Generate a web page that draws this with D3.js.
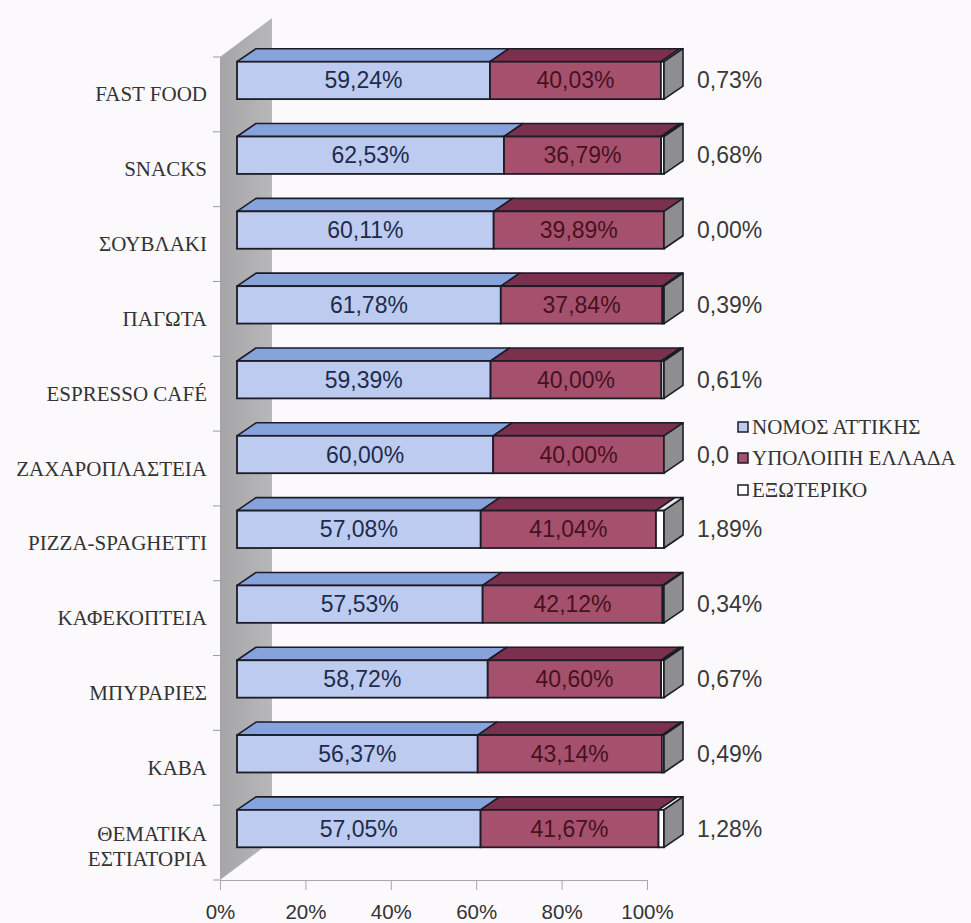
<!DOCTYPE html>
<html>
<head>
<meta charset="utf-8">
<script src="https://cdn.jsdelivr.net/npm/d3@7"></script>
<style>
  html, body { margin: 0; padding: 0; background: #fcf9fc; }
  svg { display: block; }
</style>
</head>
<body>
<svg id="chart" width="971" height="923"></svg>
<script>
// Categories, top to bottom
const categories = [
  "FAST FOOD", "SNACKS", "ΣΟΥΒΛΑΚΙ", "ΠΑΓΩΤΑ", "ESPRESSO CAFÉ",
  "ΖΑΧΑΡΟΠΛΑΣΤΕΙΑ", "PIZZA-SPAGHETTI", "ΚΑΦΕΚΟΠΤΕΙΑ", "ΜΠΥΡΑΡΙΕΣ",
  "ΚΑΒΑ", "ΘΕΜΑΤΙΚΑ ΕΣΤΙΑΤΟΡΙΑ"
];
// Share of each origin, in percent
const attica     = [59.24, 62.53, 60.11, 61.78, 59.39, 60.00, 57.08, 57.53, 58.72, 56.37, 57.05];
const restGreece = [40.03, 36.79, 39.89, 37.84, 40.00, 40.00, 41.04, 42.12, 40.60, 43.14, 41.67];
const abroad     = [0.73, 0.68, 0.00, 0.39, 0.61, 0.00, 1.89, 0.34, 0.67, 0.49, 1.28];
const seriesNames = ["ΝΟΜΟΣ ΑΤΤΙΚΗΣ", "ΥΠΟΛΟΙΠΗ ΕΛΛΑΔΑ", "ΕΞΩΤΕΡΙΚΟ"];
const xTicks = [0, 20, 40, 60, 80, 100];

const svg = d3.select("#chart");

// Front plane scales
const x = d3.scaleLinear().domain([0, 100]).range([220, 647]);
const y = d3.scaleBand().domain(categories).range([57, 880])
  .paddingInner(0.5).paddingOuter(0.25);
const step = y.step();
const bw = y.bandwidth();

// 3D offsets
const wallDx = 52, wallDy = -39;   // full depth of the wall
const barOx = 17, barOy = -14;     // bar front face offset
const barDx = 19, barDy = -13;     // bar depth

const fmt = v => v.toFixed(2).replace(".", ",") + "%";

// Side wall
const defs = svg.append("defs");
const wg = defs.append("linearGradient").attr("id", "wallGrad")
  .attr("x1", "0").attr("x2", "1").attr("y1", "0").attr("y2", "0");
wg.append("stop").attr("offset", "0").attr("stop-color", "#a5a5a7");
wg.append("stop").attr("offset", "1").attr("stop-color", "#b8b7b9");

const y0 = y.range()[0], y1 = y.range()[1];
svg.append("path")
  .attr("d", `M${x(0)},${y0} L${x(0) + wallDx},${y0 + wallDy} L${x(0) + wallDx},${y1 + wallDy} L${x(0)},${y1} Z`)
  .attr("fill", "url(#wallGrad)");

// Category tick marks on the wall edge
svg.append("g").selectAll("line")
  .data(d3.range(categories.length + 1))
  .join("line")
  .attr("x1", x(0) - 7).attr("x2", x(0))
  .attr("y1", i => y0 + i * step).attr("y2", i => y0 + i * step)
  .attr("stroke", "#9a9a9a").attr("stroke-width", 1);

// Floor axis
const axis = d3.axisBottom(x).tickValues(xTicks).tickSize(10).tickFormat(d => d + "%");
const ax = svg.append("g").attr("transform", `translate(0,${y1})`).call(axis);
ax.select(".domain").attr("stroke", "#a8a8a8");
ax.selectAll(".tick line").attr("stroke", "#a8a8a8");
ax.selectAll(".tick text")
  .attr("dy", 0).attr("y", 39)
  .attr("font-family", "Liberation Sans, Arial, sans-serif")
  .attr("font-size", 20.5).attr("fill", "#333");

// Category labels
const labG = svg.append("g")
  .attr("font-family", "Liberation Serif, Times New Roman, serif")
  .attr("font-size", 21).attr("fill", "#333").attr("text-anchor", "end");
categories.forEach(c => {
  const words = c === "ΘΕΜΑΤΙΚΑ ΕΣΤΙΑΤΟΡΙΑ" ? ["ΘΕΜΑΤΙΚΑ", "ΕΣΤΙΑΤΟΡΙΑ"] : [c];
  const cy = y(c) + bw / 2;
  const shift = words.length > 1 ? 4 : 0;
  const t = labG.append("text").attr("x", 207);
  words.forEach((w, i) => {
    t.append("tspan").attr("x", 207)
      .attr("y", cy + 7 + shift + (i - (words.length - 1) / 2) * 25)
      .text(w);
  });
});

// Stacked 3D bars
const fills = [
  { front: "#bdcbf0", top: "#87a3dc", text: "#1e2b4a" },
  { front: "#a5516d", top: "#7b304d", text: "#46121f" },
  { front: "#ffffff", top: "#e8e8e8", text: "#3a3a3a" }
];
const series = [attica, restGreece, abroad];
const stroke = "#1c1c28";

const barsG = svg.append("g");
categories.forEach((c, i) => {
  const g = barsG.append("g");
  const yt = y(c) + barOy;
  const yb = yt + bw;
  let acc = 0;
  let xEnd = 0;
  series.forEach((s, k) => {
    const v = s[i];
    const xa = x(acc) + barOx;
    const xb = x(acc + v) + barOx;
    acc += v;
    xEnd = xb;
    if (v <= 0) return;
    g.append("path")
      .attr("d", `M${xa},${yt} L${xa + barDx},${yt + barDy} L${xb + barDx},${yt + barDy} L${xb},${yt} Z`)
      .attr("fill", fills[k].top).attr("stroke", stroke).attr("stroke-width", 1.6)
      .attr("stroke-linejoin", "round");
    g.append("rect")
      .attr("x", xa).attr("y", yt).attr("width", xb - xa).attr("height", bw)
      .attr("fill", fills[k].front).attr("stroke", stroke).attr("stroke-width", 1.8);
  });
  // End cap
  g.append("path")
    .attr("d", `M${xEnd},${yt} L${xEnd + barDx},${yt + barDy} L${xEnd + barDx},${yb + barDy} L${xEnd},${yb} Z`)
    .attr("fill", "#8e8e90").attr("stroke", stroke).attr("stroke-width", 1.6)
    .attr("stroke-linejoin", "round");

  // Value labels
  const cy = yt + bw / 2;
  let a2 = 0;
  [attica, restGreece].forEach((s, k) => {
    const v = s[i];
    g.append("text")
      .attr("x", x(a2 + v / 2) + barOx).attr("y", cy + 8)
      .attr("text-anchor", "middle")
      .attr("font-family", "Liberation Sans, Arial, sans-serif")
      .attr("font-size", 23).attr("fill", fills[k].text)
      .text(fmt(v));
    a2 += v;
  });
  g.append("text")
    .attr("x", x(100) + 50).attr("y", cy + 8)
    .attr("font-family", "Liberation Sans, Arial, sans-serif")
    .attr("font-size", 23).attr("fill", "#3a3a3a")
    .text(fmt(abroad[i]));
});

// Legend (its box sits over the neighbouring value label)
const leg = svg.append("g");
leg.append("rect").attr("x", 729).attr("y", 410).attr("width", 242).attr("height", 94)
  .attr("fill", "#fcf9fc");
const legY = [427, 458, 490];
seriesNames.forEach((n, k) => {
  leg.append("rect").attr("x", 738).attr("y", legY[k] - 5).attr("width", 10).attr("height", 10)
    .attr("fill", fills[k].front).attr("stroke", stroke).attr("stroke-width", 1.5);
  leg.append("text").attr("x", 752).attr("y", legY[k] + 7)
    .attr("font-family", "Liberation Serif, Times New Roman, serif")
    .attr("font-size", 21).attr("fill", "#333")
    .text(n);
});
</script>
</body>
</html>
